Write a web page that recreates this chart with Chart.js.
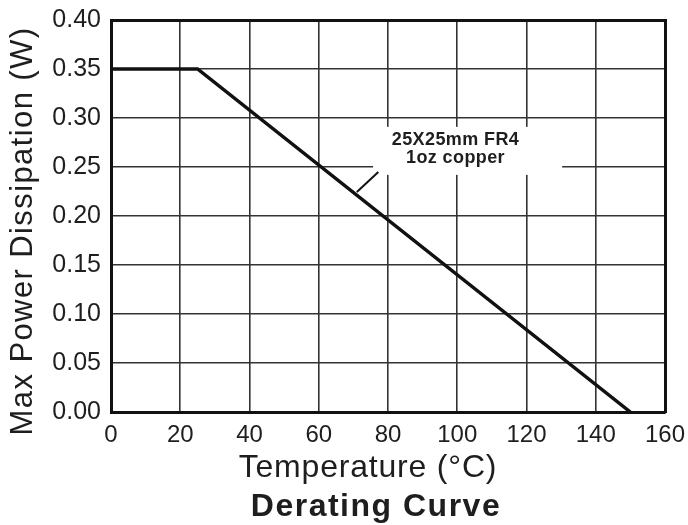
<!DOCTYPE html>
<html><head><meta charset="utf-8">
<script src="https://cdn.jsdelivr.net/npm/chart.js@4.4.0/dist/chart.umd.min.js"></script>
<style>html,body{margin:0;padding:0;background:#fff;}#wrap{width:688px;height:525px;}</style>
</head><body><div id="wrap"><canvas id="c"></canvas></div>
<script>
const temperature = [0, 25, 150];
const maxPower = [0.35, 0.35, 0];
const xTicks = [0, 20, 40, 60, 80, 100, 120, 140, 160];
const yTicks = [0, 0.05, 0.10, 0.15, 0.20, 0.25, 0.30, 0.35, 0.40];
const noteLines = ['25X25mm FR4', '1oz copper'];
const xTitle = 'Temperature (°C)';
const yTitle = 'Max Power Dissipation (W)';
const chartTitle = 'Derating Curve';

const font = "'Liberation Sans', Arial, sans-serif";
const ink = '#1e1e1e';

const annot = {
  id: 'annot',
  afterDatasetsDraw(chart) {
    const {ctx, scales: {x, y}} = chart;
    ctx.save();
    ctx.fillStyle = '#fff';
    const x0 = x.getPixelForValue(75.7), x1 = x.getPixelForValue(130.3);
    const y0 = y.getPixelForValue(0.291), y1 = y.getPixelForValue(0.242);
    ctx.fillRect(x0, y0, x1 - x0, y1 - y0);
    ctx.fillStyle = ink;
    ctx.font = "bold 18px " + font;
    ctx.letterSpacing = '0.4px';
    ctx.textAlign = 'center';
    ctx.textBaseline = 'middle';
    ctx.fillText(noteLines[0], x.getPixelForValue(99.5), y.getPixelForValue(0.2775));
    ctx.fillText(noteLines[1], x.getPixelForValue(99.5), y.getPixelForValue(0.2595));
    ctx.strokeStyle = '#111';
    ctx.lineWidth = 2;
    ctx.beginPath();
    ctx.moveTo(x.getPixelForValue(71), y.getPixelForValue(0.2245));
    ctx.lineTo(x.getPixelForValue(77.2), y.getPixelForValue(0.245));
    ctx.stroke();
    ctx.restore();
  },
  afterDraw(chart) {
    const {ctx, chartArea: a} = chart;
    const cx = (a.left + a.right) / 2, cy = (a.top + a.bottom) / 2;
    ctx.save();
    ctx.fillStyle = ink;
    ctx.textAlign = 'center';
    ctx.textBaseline = 'alphabetic';
    ctx.font = "32px " + font;
    ctx.letterSpacing = '0.8px';
    ctx.fillText(xTitle, cx - 20, a.bottom + 65);
    ctx.font = "bold 32px " + font;
    ctx.letterSpacing = '1.5px';
    ctx.fillText(chartTitle, cx - 12, a.bottom + 104);
    ctx.font = "31px " + font;
    ctx.letterSpacing = '1.4px';
    ctx.translate(a.left - 79, cy + 15);
    ctx.rotate(-Math.PI / 2);
    ctx.fillText(yTitle, 0, 0);
    ctx.restore();
  }
};

new Chart(document.getElementById('c'), {
  type: 'line',
  data: {
    datasets: [{
      data: temperature.map((t, i) => ({x: t, y: maxPower[i]})),
      borderColor: '#111',
      borderWidth: 3.5,
      pointRadius: 0,
      tension: 0
    }]
  },
  options: {
    responsive: true,
    maintainAspectRatio: false,
    animation: false,
    layout: {padding: 0},
    plugins: {legend: {display: false}, tooltip: {enabled: false}},
    scales: {
      x: {
        type: 'linear',
        min: 0, max: 160,
        afterBuildTicks: s => { s.ticks = xTicks.map(v => ({value: v})); },
        afterFit: s => { s.height = 113; s.paddingLeft = 0; s.paddingRight = 0; },
        ticks: {color: ink, font: {family: font, size: 24}, padding: 9, maxRotation: 0},
        grid: {color: '#333', lineWidth: 1.6, drawTicks: false},
        border: {color: '#111', width: 3}
      },
      y: {
        min: 0, max: 0.4,
        afterBuildTicks: s => { s.ticks = yTicks.map(v => ({value: v})); },
        afterFit: s => { s.width = 111; s.paddingTop = 0; s.paddingBottom = 0; },
        ticks: {color: ink, font: {family: font, size: 25}, padding: 10,
          callback: v => v.toFixed(2)},
        grid: {color: '#333', lineWidth: 1.6, drawTicks: false},
        border: {color: '#111', width: 3}
      },
      x2: {
        position: 'top', type: 'linear', min: 0, max: 160,
        afterFit: s => { s.height = 20; s.paddingLeft = 0; s.paddingRight = 0; },
        ticks: {display: false}, grid: {display: false, drawTicks: false},
        border: {color: '#111', width: 3}
      },
      y2: {
        position: 'right', min: 0, max: 0.4,
        afterFit: s => { s.width = 23; s.paddingTop = 0; s.paddingBottom = 0; },
        ticks: {display: false}, grid: {display: false, drawTicks: false},
        border: {color: '#111', width: 3}
      }
    }
  },
  plugins: [annot]
});
</script>
</body></html>
